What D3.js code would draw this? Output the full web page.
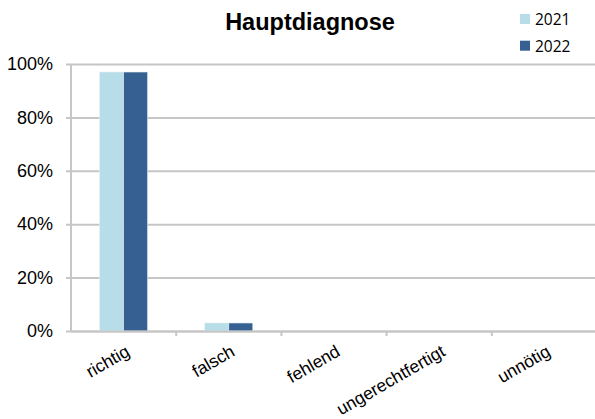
<!DOCTYPE html>
<html>
<head>
<meta charset="utf-8">
<script src="https://cdn.jsdelivr.net/npm/d3@7"></script>
<style>
  body { margin: 0; background: #fff; }
  svg { display: block; }
</style>
</head>
<body>
<svg id="chart" width="595" height="419"></svg>
<script>
// data
const categories = ['richtig', 'falsch', 'fehlend', 'ungerechtfertigt', 'unnötig'];
const seriesNames = ['2021', '2022'];
const values2021 = [0.97, 0.03, 0, 0, 0];
const values2022 = [0.97, 0.03, 0, 0, 0];
const yTicks = [0, 0.2, 0.4, 0.6, 0.8, 1];
const colors = ['#b7dde8', '#366092'];

const svg = d3.select('#chart');
const margin = { top: 64, right: -2, bottom: 88, left: 71 };
const width = 595 - margin.left - margin.right;
const height = 419 - margin.top - margin.bottom;
const font = 'Liberation Sans, Arial, sans-serif';

const g = svg.append('g').attr('transform', `translate(${margin.left},${margin.top})`);

const x = d3.scaleBand().domain(categories).range([0, width]);
const xInner = d3.scaleBand().domain(seriesNames).range([x.bandwidth() / 2 - 24, x.bandwidth() / 2 + 24]);
const y = d3.scaleLinear().domain([0, 1]).range([height, 0]);

// gridlines + y labels
const yAxis = g.append('g')
  .call(d3.axisLeft(y).tickValues(yTicks).tickFormat(d3.format('.0%')).tickSize(-width - 5).tickPadding(13));
yAxis.select('.domain').remove();
yAxis.selectAll('.tick line').attr('stroke', '#c6c6c6').attr('stroke-width', 2).attr('x1', -5);
yAxis.selectAll('.tick text')
  .attr('x', -18)
  .attr('font-family', font)
  .attr('font-size', 18).attr('fill', '#000');

// y axis line
g.append('line').attr('x1', 0).attr('x2', 0).attr('y1', y(1)).attr('y2', height + 1)
  .attr('stroke', '#c6c6c6').attr('stroke-width', 2);

// bars
const rows = categories.map((c, i) => ({ cat: c, vals: [values2021[i], values2022[i]] }));
g.append('g').selectAll('g')
  .data(rows)
  .join('g')
  .attr('transform', d => `translate(${x(d.cat)},0)`)
  .selectAll('rect')
  .data(d => d.vals.map((v, i) => ({ key: seriesNames[i], v })))
  .join('rect')
  .attr('x', d => xInner(d.key))
  .attr('width', xInner.bandwidth())
  .attr('y', d => y(d.v))
  .attr('height', d => height - y(d.v))
  .attr('fill', (d, i) => colors[i])
  .attr('stroke', '#e6eef4').attr('stroke-width', d => d.v > 0 ? 0.6 : 0);

// x axis
const xAxis = g.append('g')
  .attr('transform', `translate(0,${height})`)
  .call(d3.axisBottom(x).tickSize(0).tickFormat(''));
xAxis.select('.domain').attr('stroke', '#c6c6c6').attr('stroke-width', 2);
xAxis.selectAll('.tick').remove();

// tick marks between categories
g.append('g').selectAll('line')
  .data(categories.slice(1))
  .join('line')
  .attr('x1', d => x(d)).attr('x2', d => x(d))
  .attr('y1', height).attr('y2', height + 5)
  .attr('stroke', '#c6c6c6').attr('stroke-width', 2);

// rotated category labels
g.append('g').selectAll('text')
  .data(categories)
  .join('text')
  .attr('transform', d => `translate(${x(d) + x.bandwidth() / 2 + 1},${height + 13}) rotate(-30)`)
  .attr('text-anchor', 'end')
  .attr('dy', '0.71em')
  .attr('font-family', font)
  .attr('font-size', 17.5)
  .attr('fill', '#000')
  .text(d => d);

// title
svg.append('text')
  .attr('x', 310).attr('y', 29.5)
  .attr('text-anchor', 'middle')
  .attr('font-family', font)
  .attr('font-weight', 'bold')
  .attr('font-size', 23.5)
  .text('Hauptdiagnose');

// legend
const legend = svg.append('g').attr('transform', 'translate(520,14)');
seriesNames.forEach((s, i) => {
  const row = legend.append('g').attr('transform', `translate(0,${i * 26.7})`);
  row.append('rect').attr('width', 10).attr('height', 10).attr('fill', colors[i]);
  row.append('text').attr('x', 15).attr('y', 6).attr('dy', '0.35em')
    .attr('font-family', 'Open Sans, sans-serif')
    .attr('font-size', 15.5)
    .text(s);
});
</script>
</body>
</html>
